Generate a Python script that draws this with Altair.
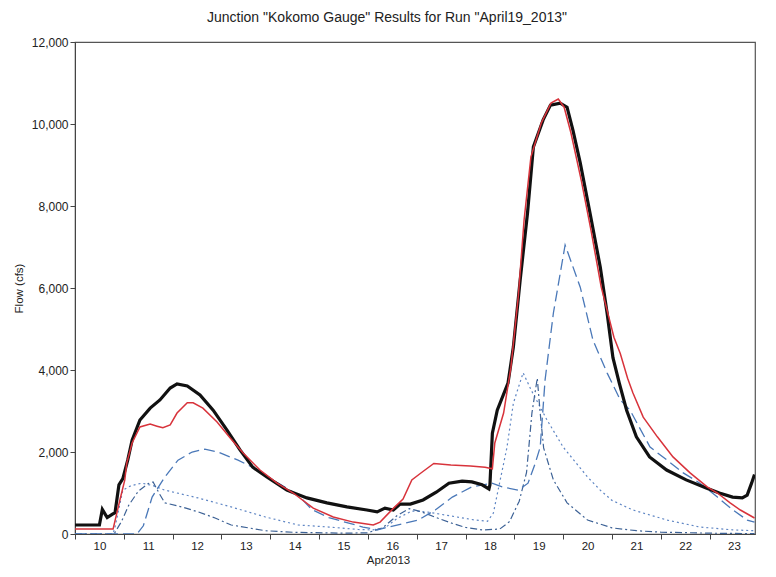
import altair as alt
import pandas as pd

# ---- data (day of April 2013, flow in cfs) ----
obs_day = [10.0, 10.5, 10.56, 10.62, 10.66, 10.76, 10.82, 10.9, 10.98, 11.08, 11.17, 11.33, 11.54,
           11.74, 11.95, 12.09, 12.3, 12.56, 12.83, 13.11, 13.38, 13.64, 13.93, 14.34, 14.75,
           15.16, 15.57, 15.98, 16.19, 16.35, 16.52, 16.66, 16.87, 17.13, 17.4, 17.66, 17.93,
           18.13, 18.34, 18.48, 18.5, 18.55, 18.65, 18.87, 18.98, 19.12, 19.27, 19.39, 19.59,
           19.74, 19.94, 20.08, 20.2, 20.35, 20.55, 20.76, 20.9, 21.02, 21.15, 21.3, 21.5,
           21.77, 22.12, 22.52, 22.93, 23.2, 23.47, 23.67, 23.77, 23.86, 23.92]
obs_flow = [220, 220, 600, 480, 400, 480, 520, 1200, 1350, 1800, 2290, 2780, 3070,
            3270, 3560, 3660, 3610, 3390, 3020, 2540, 2050, 1630, 1390, 1070, 880,
            760, 660, 585, 540, 630, 585, 730, 730, 830, 1020, 1240, 1290,
            1270, 1200, 1100, 1200, 2460, 3020, 3680, 4560, 6200, 7830, 9440, 10100,
            10460, 10510, 10410, 9850, 9050, 7830, 6510, 5390, 4300, 3680, 3020, 2370,
            1880, 1560, 1320, 1120, 1000, 900, 880, 950, 1240, 1450]

sim_day = [10.0, 10.78, 10.92, 11.02, 11.06, 11.17, 11.33, 11.54, 11.68, 11.8, 11.95, 12.09,
           12.3, 12.42, 12.62, 12.91, 13.18, 13.44, 13.79, 14.14, 14.47, 14.88, 15.29, 15.7,
           16.11, 16.25, 16.5, 16.72, 16.9, 17.1, 17.35, 17.7, 18.1, 18.4, 18.55, 18.6,
           18.78, 18.93, 19.08, 19.2, 19.34, 19.55, 19.75, 19.9, 20.02, 20.16, 20.37, 20.57,
           20.78, 21.04, 21.17, 21.32, 21.43, 21.64, 21.93, 22.25, 22.6, 22.95, 23.16, 23.42,
           23.63, 23.92]
sim_flow = [120, 120, 830, 1320, 1730, 2220, 2610, 2680, 2630, 2590, 2660, 2950,
            3200, 3200, 3070, 2730, 2340, 1980, 1560, 1240, 1000, 630, 415, 290,
            220, 290, 600, 850, 1320, 1500, 1720, 1680, 1660, 1630, 1590, 2220,
            2950, 4070, 5780, 7660, 9200, 10020, 10510, 10610, 10410, 9780, 8630, 7410,
            6020, 4800, 4400, 3800, 3440, 2850, 2370, 1880, 1490, 1150, 1000, 760,
            585, 390]

# dotted tributary
sub_a_day = [10.0, 10.78, 10.82, 10.98, 11.15, 11.37, 11.6, 11.84, 12.52, 13.2, 13.9, 14.57,
             15.2, 15.8, 16.1, 16.35, 16.6, 16.9, 17.2, 17.5, 17.9, 18.2, 18.45, 18.57,
             18.85, 18.98, 19.18, 19.35, 19.67, 20.0, 20.5, 20.76, 21.0, 21.43, 22.13, 22.8,
             23.48, 23.92]
sub_a_flow = [0, 0, 170, 1070, 1180, 1240, 1180, 1070, 880, 660, 415, 220,
              170, 110, 100, 150, 380, 560, 540, 480, 400, 340, 310, 510,
              2120, 3190, 3930, 3500, 2780, 2120, 1390, 1070, 820, 585, 340, 170,
              100, 80]

# dash-dot tributary
sub_b_day = [10.0, 10.8, 10.95, 11.1, 11.3, 11.5, 11.6, 11.72, 11.84, 12.19, 12.52, 12.87,
             13.2, 13.55, 13.9, 14.5, 15.5, 16.0, 16.3, 16.6, 16.85, 17.1, 17.4, 17.7,
             18.0, 18.35, 18.7, 18.9, 19.1, 19.25, 19.36, 19.47, 19.53, 19.6, 19.8, 20.08,
             20.5, 21.0, 21.5, 22.0, 23.0, 23.92]
sub_b_flow = [0, 0, 300, 700, 1050, 1230, 1270, 1000, 760, 660, 540, 390,
              220, 150, 80, 40, 20, 30, 150, 450, 620, 540, 400, 270,
              160, 100, 120, 300, 800, 1500, 2950, 3800, 2950, 2100, 1320, 760,
              340, 150, 80, 45, 20, 10]

# long-dash tributary
sub_c_day = [10.0, 11.27, 11.4, 11.58, 11.84, 12.11, 12.4, 12.66, 12.93, 13.34, 13.75, 14.16,
             14.57, 14.85, 15.2, 15.5, 15.9, 16.2, 16.35, 17.03, 17.38, 17.73, 18.13, 18.54,
             18.75, 19.08, 19.28, 19.43, 19.53, 19.63, 19.8, 20.04, 20.35, 20.61, 20.9, 21.17,
             21.37, 21.78, 22.13, 22.46, 22.8, 23.16, 23.48, 23.77, 23.92]
sub_c_flow = [0, 0, 200, 900, 1390, 1800, 2000, 2070, 2000, 1800, 1560, 1240,
              950, 600, 400, 300, 170, 100, 150, 340, 585, 900, 1150, 1240,
              1150, 1070, 1240, 1730, 2120, 3760, 5390, 7050, 6020, 4730, 3930, 3270,
              3020, 2120, 1800, 1490, 1240, 900, 585, 340, 290]

x_ticks = list(range(10, 24))
y_ticks = [0, 2000, 4000, 6000, 8000, 10000, 12000]

FONT = "Liberation Sans"


def frame(days, flows):
    return pd.DataFrame({"day": days, "flow": flows})


x_enc = alt.X(
    "day:Q",
    scale=alt.Scale(domain=[10, 23.93], nice=False, zero=False),
    axis=alt.Axis(
        values=x_ticks, format="d", title="Apr2013", labelOffset=24.4,
        labelFlush=False, labelOverlap=False, tickSize=5, labelPadding=1,
        labelFontSize=11.5,
        titleX=313, titleY=20, titleAnchor="middle", titleFontSize=11.5,
    ),
)
y_enc = alt.Y(
    "flow:Q",
    scale=alt.Scale(domain=[0, 12000], nice=False),
    axis=alt.Axis(values=y_ticks, format=",d", title="Flow (cfs)", tickSize=5,
                  labelPadding=2, titlePadding=7, titleFontSize=11.5),
)


def line(days, flows, color, width, dash=None):
    kw = dict(color=color, strokeWidth=width, clip=True)
    if dash is not None:
        kw["strokeDash"] = dash
    return alt.Chart(frame(days, flows)).mark_line(**kw).encode(x=x_enc, y=y_enc)


layers = [
    line(sub_a_day, sub_a_flow, "#5f86c4", 1.2, [2, 3]),
    line(sub_b_day, sub_b_flow, "#3d6296", 1.2, [7, 3, 2, 3]),
    line(sub_c_day, sub_c_flow, "#4a78b8", 1.3, [11, 5]),
    line(obs_day, obs_flow, "#111111", 3.2),
    line(sim_day, sim_flow, "#d8333b", 1.5),
]

chart = (
    alt.layer(*layers)
    .properties(
        width=680, height=492,
        autosize=alt.AutoSizeParams(type="none"),
        padding={"left": 67, "top": 34, "right": 13, "bottom": 35},
        title=alt.TitleParams(
            'Junction "Kokomo Gauge" Results for Run "April19_2013"',
            font=FONT, fontSize=14, fontWeight="normal", color="#222",
            offset=11, dx=-28, anchor="middle",
        ),
        background="white",
    )
    .configure_view(stroke="#555", strokeWidth=1.2)
    .configure_axis(
        labelFont=FONT, titleFont=FONT, labelFontSize=12, titleFontSize=12,
        titleFontWeight="normal", labelColor="#222", titleColor="#222",
        domainColor="#444", tickColor="#444", grid=False,
    )
)

chart.save("out.html", embed_options={"renderer": "svg", "actions": False})
